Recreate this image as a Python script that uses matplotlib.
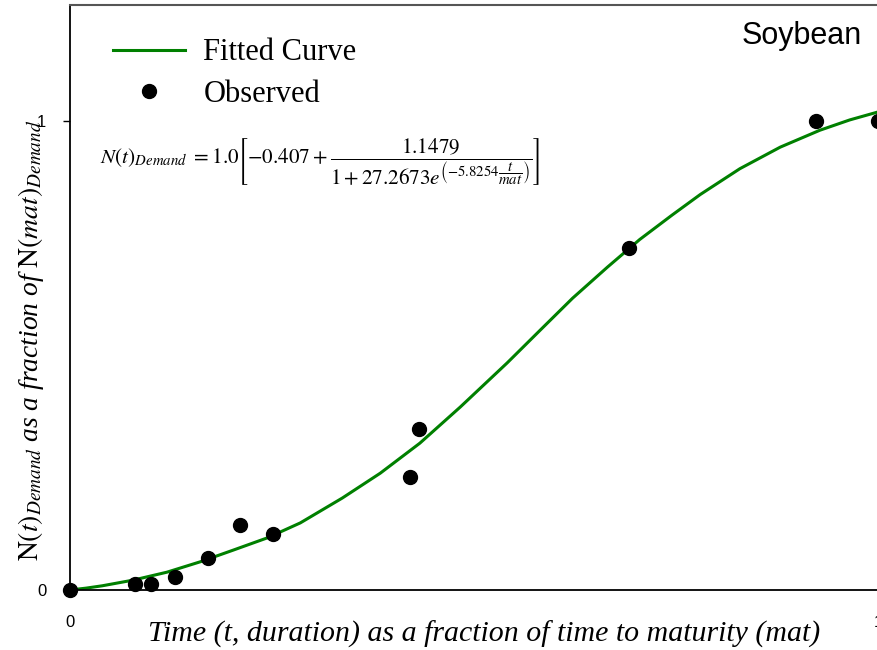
import matplotlib
matplotlib.use("Agg")
import matplotlib.pyplot as plt
from matplotlib.lines import Line2D

# Fitted curve
curve_t = [0.0, 0.020, 0.040, 0.078, 0.120, 0.161, 0.202, 0.244, 0.285, 0.337, 0.384, 0.433,
           0.483, 0.541, 0.582, 0.622, 0.665, 0.705, 0.745, 0.780, 0.829, 0.879, 0.928, 0.965, 1.0]
curve_v = [0.0, 0.004, 0.009, 0.021, 0.038, 0.060, 0.085, 0.111, 0.143, 0.196, 0.249, 0.313,
           0.390, 0.484, 0.554, 0.622, 0.688, 0.747, 0.799, 0.843, 0.898, 0.944, 0.980, 1.002, 1.019]

# Observed points
obs_t = [0.0, 0.080, 0.100, 0.130, 0.171, 0.210, 0.251, 0.421, 0.432, 0.692, 0.923, 1.0]
obs_v = [0.0, 0.013, 0.013, 0.028, 0.068, 0.139, 0.119, 0.241, 0.343, 0.729, 1.0, 1.0]

xticks = [0, 1]
yticks = [0, 1]

plt.rcParams['mathtext.fontset'] = 'stix'

W, H = 878, 650
fig = plt.figure(figsize=(W / 100, H / 100), dpi=100)
ax = fig.add_axes([70 / W, (H - 590) / H, 808 / W, 585 / H])

ax.plot(curve_t, curve_v, color='#008000', lw=2.2, zorder=2, solid_joinstyle='round')
ax.plot(obs_t, obs_v, 'o', color='black', ms=10, zorder=3, clip_on=False)

ax.set_xlim(0, 1)
ax.set_ylim(0, 1.247)
ax.set_xticks(xticks)
ax.set_yticks(yticks)
ax.set_xticklabels([str(v) for v in xticks], family='Liberation Sans', fontsize=12)
ax.set_yticklabels([str(v) for v in yticks], family='Liberation Sans', fontsize=12)
ax.tick_params(axis='y', direction='out', length=5, width=1, pad=12)
ax.tick_params(axis='x', direction='out', length=5, width=1, pad=13)

ax.spines['right'].set_visible(False)
ax.spines['top'].set_color('#555555')
ax.spines['top'].set_linewidth(1.5)
for s in ['left', 'bottom']:
    ax.spines[s].set_linewidth(1.3)

ax.set_xlabel('Time (t, duration) as a fraction of time to maturity (mat)',
              family='Liberation Serif', style='italic', fontsize=21.5)
ax.xaxis.set_label_coords(0.512, -0.052)
ax.set_ylabel(r'$\mathrm{N}(t)_{Demand}$ as a fraction of $\mathrm{N}(mat)_{Demand}$',
              family='Liberation Serif', style='italic', fontsize=19.8)
ax.yaxis.set_label_coords(-0.030, 0.427)

handles = [Line2D([0], [0], color='#008000', lw=2.2),
           Line2D([0], [0], marker='o', ls='none', color='black', ms=10)]
leg = ax.legend(handles, ['Fitted Curve', 'Observed'], loc='upper left',
                bbox_to_anchor=(0.0532, 0.943), frameon=False,
                borderaxespad=0, borderpad=0,
                prop={'family': 'Liberation Serif', 'size': 22},
                handlelength=2.36, handletextpad=0.6, labelspacing=0.41)

ax.text(0.980, 0.947, 'Soybean', transform=ax.transAxes, ha='right', va='center',
        family='Liberation Sans', fontsize=22)

eq = (r'$N(t)_{Demand}\ {=}1.0\left[-0.407+\dfrac{1.1479}'
      r'{1+27.2673e^{\left(-5.8254\dfrac{t}{mat}\right)}}\right]$')
ax.text((100 - 70) / 808, (590 - 162) / 585, eq, transform=ax.transAxes,
        ha='left', va='center', fontsize=15.2)

fig.savefig('out.png', dpi=100)
